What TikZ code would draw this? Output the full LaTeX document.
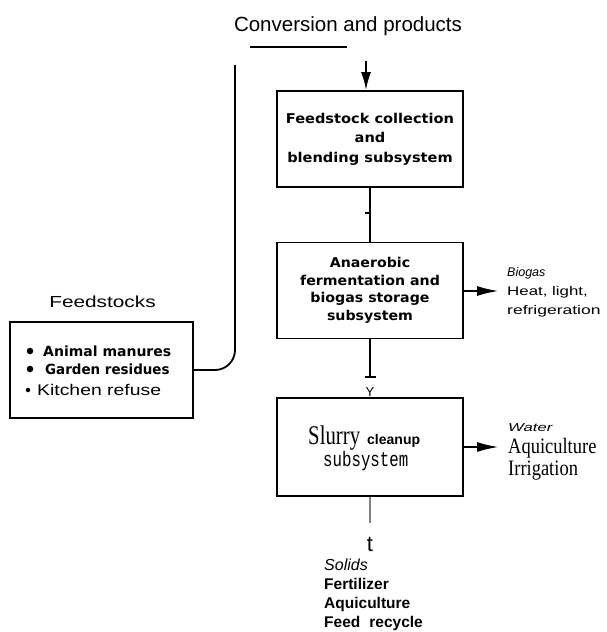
\documentclass[tikz,border=0pt]{standalone}
\usepackage{fontspec}
\usepackage{graphicx}
\setmainfont{Liberation Sans}
\newfontfamily\serifface{Liberation Serif}
\newfontfamily\monoface{Liberation Mono}
\newfontfamily\heavyface{DejaVu Sans}
\usetikzlibrary{arrows.meta}
\begin{document}
\begin{tikzpicture}[x=1pt,y=-1pt,
  box/.style={draw, line width=1.8pt, minimum width=186pt, minimum height=96pt, inner sep=0pt},
  wire/.style={line width=1.8pt},
  outarrow/.style={line width=2.2pt, -{Latex[length=22pt,width=10pt]}},
  lbl/.style={inner sep=0pt, anchor=base west},
  dot/.style={circle, fill, inner sep=0pt, minimum size=#1},
  dot/.default=6.5pt]
\useasboundingbox (0,0) rectangle (606,632);

% title and top line
\node[inner sep=0pt, anchor=base] (title) at (348,31) {\fontsize{20.5}{24}\selectfont Conversion and products};
\coordinate (hl) at (250,47);
\coordinate (hr) at (347,47);
\draw[line width=2pt] (hl) -- (hr);

% box 1
\node[box] (b1) at (370,139) {\scalebox{1.08}[1]{\fontsize{13.5}{19.5}\selectfont\heavyface\bfseries\begin{tabular}{@{}c@{}}Feedstock collection\\ and\\ blending subsystem\end{tabular}}};
\coordinate (ain) at (366,61);
\draw[line width=1.8pt, -{Latex[length=18pt,width=10pt]}] (ain) -- (ain |- b1.north);

% box 2
\node[box] (b2) at (370,290.5) {\scalebox{1.05}[1]{\fontsize{13.5}{17.5}\selectfont\heavyface\bfseries\begin{tabular}{@{}c@{}}Anaerobic\\ fermentation and\\ biogas storage\\ subsystem\end{tabular}}};
\draw[wire] (b1.south) -- (b2.north);
\coordinate (k1) at (370,213);
\draw[line width=1.2pt] ([xshift=-5pt]k1) -- ([xshift=1pt]k1);

% biogas output
\coordinate (o2) at (499,291);
\draw[outarrow] (b2.east |- o2) -- (o2);
\node[lbl] (bg1) at (507,276) {\fontsize{12.5}{13}\selectfont\itshape Biogas};
\node[lbl] (bg2) at (507,295) {\scalebox{1.35}[1]{\fontsize{12.5}{13}\selectfont Heat, light,}};
\node[lbl] (bg3) at (507,314) {\scalebox{1.4}[1]{\fontsize{12.5}{13}\selectfont refrigeration}};

% box 3
\node[box, minimum height=98pt] (b3) at (370,447) {};
\coordinate (tb) at (370,377);
\draw[wire] (b2.south) -- (tb);
\draw[wire] ([xshift=-5.5pt]tb) -- ([xshift=5.5pt]tb);
\node[inner sep=0pt, anchor=base] (yy) at (370,396) {\fontsize{13}{13}\selectfont Y};
\node[lbl] (s1) at (308,444) {\scalebox{0.77}[1]{\fontsize{27}{27}\selectfont\serifface Slurry}};
\node[lbl] (s2) at (367,444) {\fontsize{14}{14}\selectfont\bfseries cleanup};
\node[lbl] (s3) at (323,466) {\scalebox{0.75}[1]{\fontsize{21}{21}\selectfont\monoface subsystem}};

% water output
\coordinate (o3) at (499,447);
\draw[outarrow] (b3.east) -- (o3);
\node[lbl] (w1) at (508,431) {\scalebox{1.45}[1]{\fontsize{11.5}{12}\selectfont\itshape Water}};
\node[lbl] (w2) at (508,453) {\scalebox{0.84}[1]{\fontsize{22}{22}\selectfont\serifface Aquiculture}};
\node[lbl] (w3) at (508,475) {\scalebox{0.84}[1]{\fontsize{22}{22}\selectfont\serifface Irrigation}};

% solids output
\coordinate (d3) at (370,523);
\draw[line width=1.1pt, gray] (b3.south) -- (d3);
\node[inner sep=0pt, anchor=base] (tt) at (370,551) {\fontsize{22}{22}\selectfont t};
\node[lbl] (sd1) at (324,570) {\fontsize{16}{16}\selectfont\itshape Solids};
\node[lbl] (sd2) at (324,589) {\fontsize{15.5}{16}\selectfont\bfseries Fertilizer};
\node[lbl] (sd3) at (324,608) {\fontsize{15.5}{16}\selectfont\bfseries Aquiculture};
\node[lbl] (sd4) at (324,627) {\fontsize{15.5}{16}\selectfont\bfseries Feed\hspace{9pt}recycle};

% feedstocks
\node[inner sep=0pt, anchor=base] (fst) at (102.5,307) {\scalebox{1.3}[1]{\fontsize{16}{16}\selectfont Feedstocks}};
\node[draw, line width=1.8pt, minimum width=183pt, minimum height=96pt, inner sep=0pt] (fs) at (101.5,370) {};
\node[dot] (d1) at (30,351) {};
\node[dot] (d2) at (30,369) {};
\node[dot=4.5pt] (d3b) at (28,390) {};
\node[lbl] (f1) at (43,356) {\fontsize{14}{16}\selectfont\heavyface\bfseries Animal manures};
\node[lbl] (f2) at (45,374) {\scalebox{0.96}[1]{\fontsize{14}{16}\selectfont\heavyface\bfseries Garden residues}};
\node[lbl] (f3) at (37,395) {\scalebox{1.25}[1]{\fontsize{15.5}{16}\selectfont Kitchen refuse}};

% feedstock connector
\coordinate (vt) at (235,65);
\draw[wire, rounded corners=20pt] (fs.east) -- (vt |- fs.east) -- (vt);
\end{tikzpicture}
\end{document}
